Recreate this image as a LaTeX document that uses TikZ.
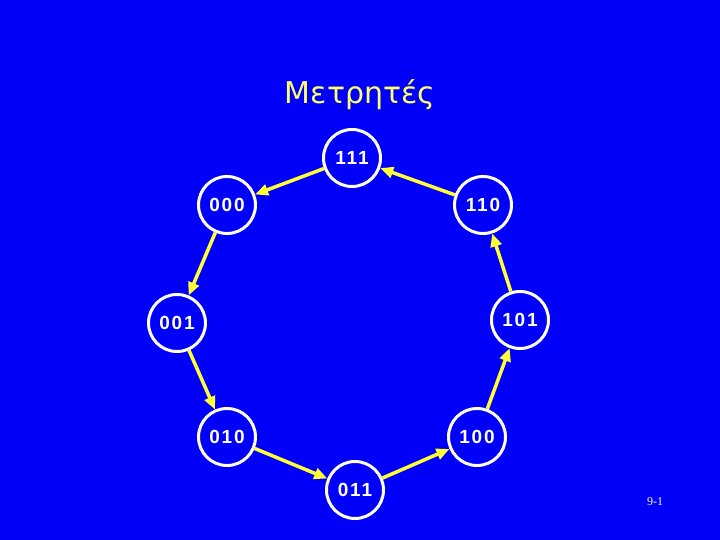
\documentclass[tikz,border=0pt]{standalone}
\usepackage{fontspec}
\setmainfont{Liberation Sans}
\newfontfamily\titlefont{DejaVu Sans}
\newfontfamily\statefont[LetterSpace=10]{Liberation Sans}
\newfontfamily\pagefont{Liberation Serif}
\usetikzlibrary{arrows.meta}
\definecolor{slideblue}{RGB}{0,0,250}
\definecolor{arrowyellow}{RGB}{255,255,51}
\definecolor{titleyellow}{RGB}{255,255,102}
\tikzset{
  state/.style={circle, draw=white, line width=3pt, fill=slideblue, minimum size=57pt, inner sep=0pt, text=white, font=\statefont\bfseries\fontsize{19}{19}\selectfont},
  trans/.style={-{Triangle[length=13pt,width=11pt]}, arrowyellow, line width=3.5pt}
}

\begin{document}
\begin{tikzpicture}[x=1pt,y=1pt]
  \fill[slideblue] (0,0) rectangle (720,540);
  \useasboundingbox (0,0) rectangle (720,540);

  \node[titleyellow, font=\titlefont\fontsize{30}{30}\selectfont] (title) at (360,445) {Μετρητές};

  % counter states
  \foreach \name/\x/\y in {111/352/382, 000/227/335, 110/483/335, 001/177/217, 101/520/220, 010/227/103, 100/477/103, 011/355/50} {
    \node[state] (s\name) at (\x,\y) {\name};
  }

  % transitions
  \foreach \a/\b in {111/000, 000/001, 001/010, 010/011, 011/100, 100/101, 101/110, 110/111} {
    \draw[trans] (s\a) -- (s\b);
  }

  \node[white, font=\pagefont\fontsize{12}{12}\selectfont] (page) at (655,38) {9-1};
\end{tikzpicture}
\end{document}
